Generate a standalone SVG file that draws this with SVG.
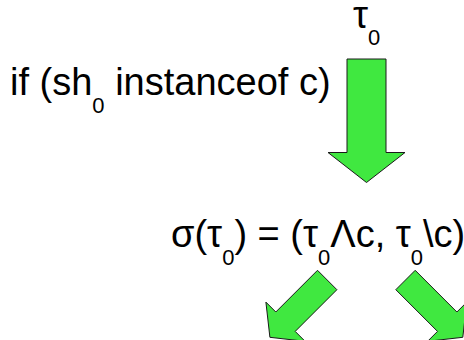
<svg xmlns="http://www.w3.org/2000/svg" width="464" height="340" viewBox="0 0 464 340">
<style>
.t{font-family:"Liberation Sans",Arial,sans-serif;font-size:38px;fill:#000}
.s{font-size:22px}
.a{fill:#40e840;stroke:#1a1a1a;stroke-width:1;stroke-linejoin:miter}
</style>
<rect width="464" height="340" fill="#fff"/>
<g id="tau0">
<text class="t" x="353" y="28">τ<tspan class="s" dy="17">0</tspan></text>
</g>
<g id="condition">
<text class="t" x="10" y="95">if (sh<tspan class="s" dy="18">0</tspan><tspan dy="-18"> instanceof c)</tspan></text>
</g>
<g id="split">
<text class="t" x="171" y="247">σ(τ<tspan class="s" dy="18">0</tspan><tspan dy="-18">) = (τ</tspan><tspan class="s" dy="18">0</tspan><tspan dy="-18">Λc, τ</tspan><tspan class="s" dy="18">0</tspan><tspan dy="-18">\c)</tspan></text>
</g>
<g id="connectors">
<path class="a" d="M347,59 H386 V152.5 H405 L366.5,182.5 L328,152.5 H347 Z"/>
<path class="a" d="M317.5,270.3 L336.9,289.7 L295.2,331.4 L305.1,341.3 L269.9,337.3 L265.9,302.1 L275.8,312 Z"/>
<path class="a" d="M415.2,270.3 L395.8,289.7 L437.5,331.4 L427.6,341.3 L462.8,337.3 L466.8,302.1 L456.9,312 Z"/>
</g>
</svg>
